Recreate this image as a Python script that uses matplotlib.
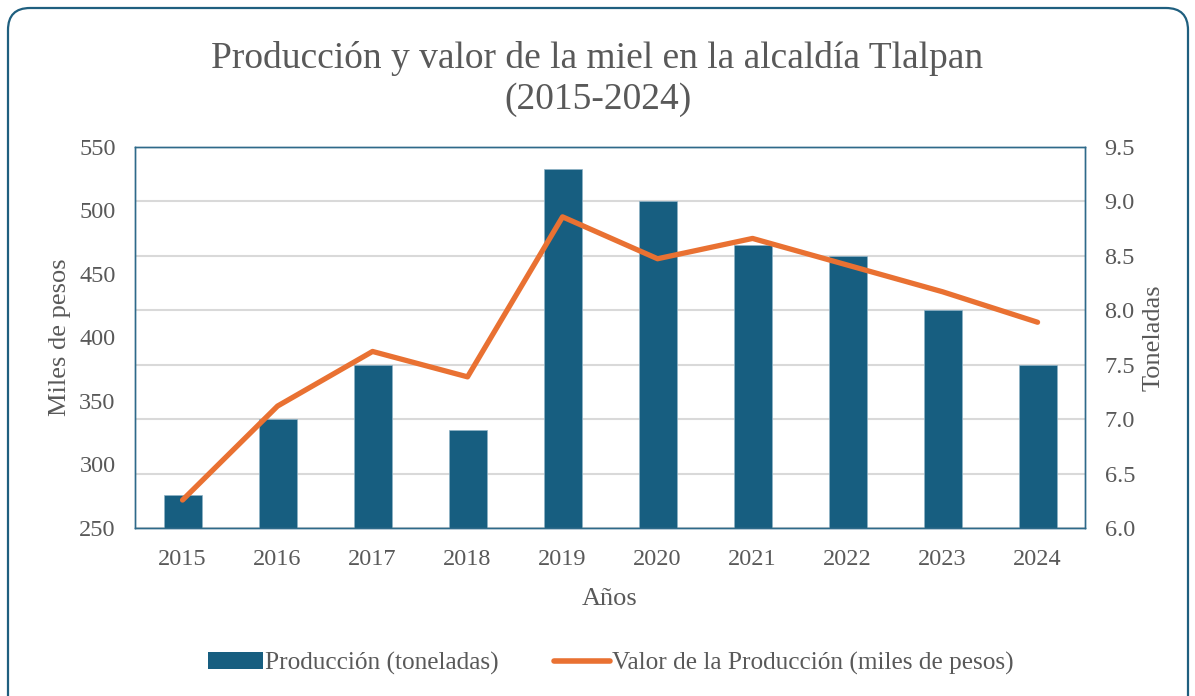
import matplotlib
matplotlib.use("Agg")
import matplotlib.pyplot as plt
from matplotlib.patches import FancyBboxPatch, Patch
from matplotlib.lines import Line2D
from matplotlib.ticker import FormatStrFormatter

plt.rcParams['font.family'] = ['Liberation Serif', 'DejaVu Serif']

years = ['2015', '2016', '2017', '2018', '2019', '2020', '2021', '2022', '2023', '2024']
produccion = [6.3, 7.0, 7.5, 6.9, 9.3, 9.0, 8.6, 8.5, 8.0, 7.5]        # toneladas
valor = [272, 346, 389, 369, 495, 462, 478, 457, 436, 412]              # miles de pesos

blue = '#175E80'
orange = '#E97132'
gray = '#595959'

fig = plt.figure(figsize=(11.95, 6.96), dpi=100)
fig.patch.set_facecolor('white')

# rounded frame around the chart
frame = FancyBboxPatch((0.08, -0.3), 11.8, 7.18, boxstyle="round,pad=0,rounding_size=0.22",
                       transform=fig.dpi_scale_trans, facecolor='none',
                       edgecolor='#1F5F7F', linewidth=1.6)
fig.patches.append(frame)

ax = fig.add_axes([0.113, 0.2414, 0.795, 0.5474])
ax2 = ax.twinx()

x = list(range(len(years)))
ax2.bar(x, produccion, width=0.4, color=blue, edgecolor='#8FB3C6', linewidth=0.5, zorder=2)
ax2.set_ylim(6.0, 9.5)
ax2.set_yticks([6.0, 6.5, 7.0, 7.5, 8.0, 8.5, 9.0, 9.5])
ax2.yaxis.set_major_formatter(FormatStrFormatter('%.1f'))
ax2.grid(axis='y', color='#D9D9D9', linewidth=1.5)
ax2.set_axisbelow(True)
ax2.set_ylabel('Toneladas', fontsize=19, color=gray, labelpad=5)

ax.plot(x, valor, color=orange, linewidth=3.8, solid_capstyle='round', zorder=3)
ax.set_ylim(250, 550)
ax.set_yticks(range(250, 551, 50))
ax.set_xlim(-0.5, 9.5)
ax.set_xticks(x)
ax.set_xticklabels(years)
ax.set_ylabel('Miles de pesos', fontsize=19, color=gray, labelpad=6)
ax.set_xlabel('Años', fontsize=19, color=gray, labelpad=13)

ax.set_zorder(ax2.get_zorder() + 1)
ax.patch.set_visible(False)

for a in (ax, ax2):
    a.tick_params(axis='both', length=0, labelsize=17.5, labelcolor=gray, pad=14)
    for s in a.spines.values():
        s.set_color('#2E6A8A')
        s.set_linewidth(1.0)
ax.tick_params(axis='x', pad=15)

fig.text(0.5, 0.916, 'Producción y valor de la miel en la alcaldía Tlalpan', ha='center', va='center',
         fontsize=27, color=gray)
fig.text(0.5, 0.857, '(2015-2024)', ha='center', va='center', fontsize=27, color=gray)

handles = [Patch(facecolor=blue, edgecolor='none'),
           Line2D([0], [0], color=orange, linewidth=4, solid_capstyle='round')]
labels = ['Producción (toneladas)', 'Valor de la Producción (miles de pesos)']
fig.legend(handles, labels, loc='center', bbox_to_anchor=(0.511, 0.047), ncol=2, frameon=False,
           fontsize=18.2, labelcolor=gray, handlelength=2.2, handletextpad=0.08, columnspacing=2.2,
           handleheight=0.6)

fig.savefig('out.png', dpi=100)
